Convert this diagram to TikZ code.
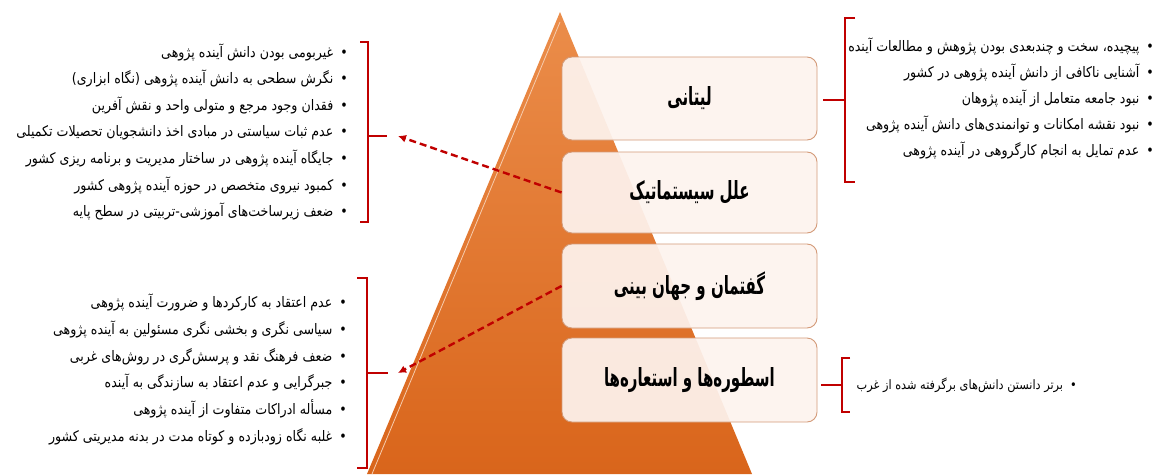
\documentclass[tikz,border=0pt]{standalone}
\usepackage{fontspec}
\newfontfamily\arabicfont[Script=Arabic,FakeStretch=0.87]{DejaVu Sans}
\newfontfamily\levelfont[Script=Arabic,FakeStretch=0.6]{DejaVu Sans}
\TeXXeTstate=1
\usetikzlibrary{arrows.meta}
\definecolor{pyrtop}{HTML}{EB8D4A}
\definecolor{pyrbot}{HTML}{D9651B}
\definecolor{boxfill}{HTML}{FDF3EE}
\definecolor{boxedge}{HTML}{D39A78}
\definecolor{linkred}{HTML}{C00000}
\newcommand\fatext[1]{\beginR #1\endR}
\newcommand\faitem[1]{\beginR •\hspace{7pt}#1\endR}

\begin{document}
\begin{tikzpicture}[x=1pt,y=-1pt,every node/.style={inner sep=0pt},
  item/.style={font=\arabicfont\fontsize{14.5}{17}\selectfont,anchor=base east},
  level/.style={draw=boxedge,line width=0.9pt,fill=boxfill,fill opacity=0.93,text opacity=1,rounded corners=10pt,
    minimum width=255pt,font=\levelfont\bfseries\fontsize{25}{28}\selectfont},
  brk/.style={draw=linkred,line width=1.5pt},
  link/.style={draw=linkred,line width=2.4pt,dash pattern=on 7pt off 4pt,-{Latex[length=8pt,width=8pt]}}]
  \useasboundingbox (0,0) rectangle (1161,474);
  % pyramid
  \shade[top color=pyrtop,bottom color=pyrbot] (560,12) -- (752,474) -- (367,474) -- cycle;
  \draw[pyrtop!45!white,line width=0.8pt] (560,22) -- (372,474);
  % levels of the pyramid
  \node[level,minimum height=83pt] (litany) at (689.5,98.5) {\fatext{لیتانی}};
  \node[level,minimum height=81pt] (causes) at (689.5,192.5) {\fatext{علل سیستماتیک}};
  \node[level,minimum height=84pt] (worldview) at (689.5,286) {\fatext{گفتمان و جهان بینی}};
  \node[level,minimum height=84pt] (myth) at (689.5,380) {\fatext{اسطوره‌ها و استعاره‌ها}};
  % left lists
  \foreach \t [count=\i] in {{غیربومی بودن دانش آینده پژوهی},{نگرش سطحی به دانش آینده پژوهی (نگاه ابزاری)},
    {فقدان وجود مرجع و متولی واحد و نقش آفرین},{عدم ثبات سیاستی در مبادی اخذ دانشجویان تحصیلات تکمیلی},
    {جایگاه آینده پژوهی در ساختار مدیریت و برنامه ریزی کشور},{کمبود نیروی متخصص در حوزه آینده پژوهی کشور},
    {ضعف زیرساخت‌های آموزشی-تربیتی در سطح پایه}}
    \node[item] (ca\i) at (348,57+26.6*\i-26.6) {\faitem{\t}};
  \foreach \t [count=\i] in {{عدم اعتقاد به کارکردها و ضرورت آینده پژوهی},{سیاسی نگری و بخشی نگری مسئولین به آینده پژوهی},
    {ضعف فرهنگ نقد و پرسش‌گری در روش‌های غربی},{جبرگرایی و عدم اعتقاد به سازندگی به آینده},
    {مسأله ادراکات متفاوت از آینده پژوهی},{غلبه نگاه زودبازده و کوتاه مدت در بدنه مدیریتی کشور}}
    \node[item] (wv\i) at (347,307.5+26.8*\i-26.8) {\faitem{\t}};
  % right lists
  \foreach \t [count=\i] in {{پیچیده، سخت و چندبعدی بودن پژوهش و مطالعات آینده},{آشنایی ناکافی از دانش آینده پژوهی در کشور},
    {نبود جامعه متعامل از آینده پژوهان},{نبود نقشه امکانات و توانمندی‌های دانش آینده پژوهی},
    {عدم تمایل به انجام کارگروهی در آینده پژوهی}}
    \node[item] (li\i) at (1154,51.5+26*\i-26) {\faitem{\t}};
  \node[item,font=\arabicfont\fontsize{13}{15}\selectfont] (my1) at (1077,389) {\faitem{برتر دانستن دانش‌های برگرفته شده از غرب\hspace{8pt}}};
  % brackets
  \draw[brk] (360,42) -- (368,42) -- (368,222) -- (360,222);
  \draw[brk] (368,136) -- (387,136);
  \draw[brk] (357,278) -- (367,278) -- (367,468) -- (357,468);
  \draw[brk] (367,373) -- (388,373);
  \draw[brk] (855,18) -- (845,18) -- (845,182) -- (855,182);
  \draw[brk] (845,100) -- (823,100);
  \draw[brk] (850,358) -- (842,358) -- (842,412) -- (850,412);
  \draw[brk] (842,385) -- (821,385);
  % links
  \coordinate (causesend) at (398,136);
  \coordinate (worldend) at (398,373);
  \draw[link] (causes.west) -- (causesend);
  \draw[link] (worldview.west) -- (worldend);
\end{tikzpicture}
\end{document}
